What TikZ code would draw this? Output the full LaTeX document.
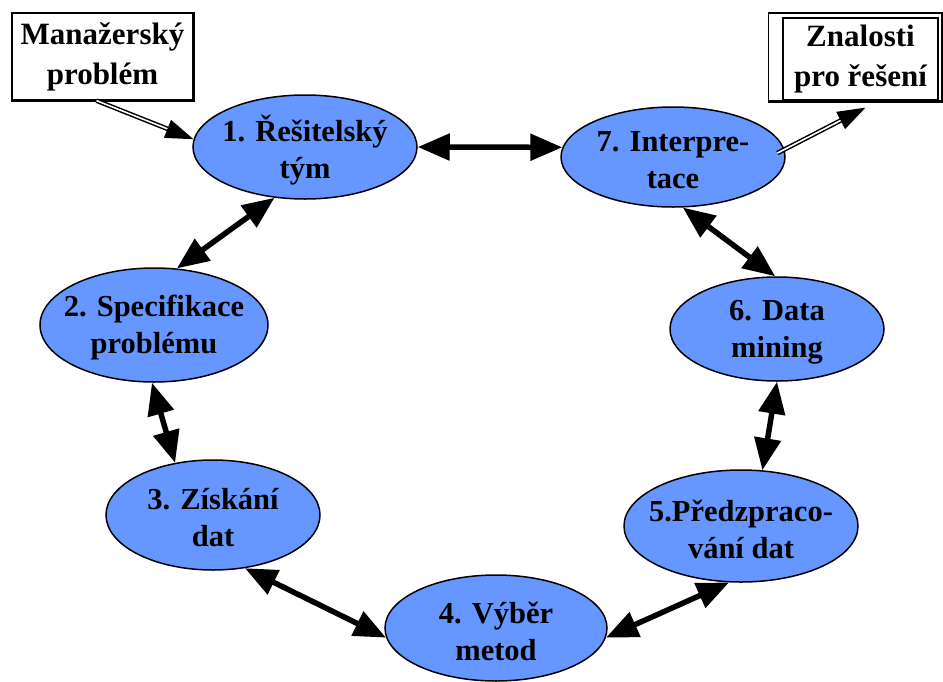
\documentclass[tikz,border=0pt]{standalone}
\usepackage{fontspec}
\setmainfont{Liberation Serif}
\usetikzlibrary{shapes.geometric,arrows.meta}
\definecolor{stageblue}{RGB}{102,150,255}
\tikzset{
  stage/.style={ellipse, draw=black, line width=1.5pt, fill=stageblue,
    inner sep=0pt},
  stagetext/.style={inner sep=0pt, align=center, yshift=-3pt,
    font=\bfseries\fontsize{30.5}{37}\selectfont},
  framed/.style={draw=black, line width=1.3pt, fill=white, inner sep=0pt,
    align=center, font=\bfseries\fontsize{31}{40}\selectfont},
  link/.style={line width=5.5pt,
    {Triangle[length=32pt,width=26pt]}-{Triangle[length=32pt,width=26pt]}},
  feed/.style={double=white, double distance=1.6pt, line width=1.5pt,
    -{Triangle[length=28pt,width=19pt]}},
}
\begin{document}
\begin{tikzpicture}[x=1pt,y=-1pt]
\useasboundingbox[fill=white] (0,0) rectangle (943,681);

% input and output boxes
\node[framed, minimum width=181pt, minimum height=87pt] (mgr) at (102.5,56.5) {Manažerský\\problém};
\draw[line width=3pt] (mgr.north east) -- (mgr.south east) -- (mgr.south west);

\node[framed, minimum width=173pt, minimum height=88pt] (znout) at (855,57) {};
\draw[line width=3pt] (znout.north east) -- (znout.south east) -- (znout.south west);
\node[framed, minimum width=155pt, minimum height=82pt] (zn) at (860.5,59) {Znalosti\\pro řešení};

% stages of the cycle
\node[stage, minimum width=224pt, minimum height=104pt] (e1) at (305,147) {};
\node[stage, minimum width=224pt, minimum height=100pt] (e7) at (673,157) {};
\node[stage, minimum width=228pt, minimum height=114pt] (e2) at (154,325) {};
\node[stage, minimum width=214pt, minimum height=104pt] (e6) at (777,329) {};
\node[stage, minimum width=214pt, minimum height=110pt] (e3) at (213,515) {};
\node[stage, minimum width=234pt, minimum height=112pt] (e5) at (741,526) {};
\node[stage, minimum width=222pt, minimum height=106pt] (e4) at (496,628) {};

\node[stagetext] (t1) at (e1.center) {1. Řešitelský\\tým};
\node[stagetext] (t7) at (e7.center) {7. Interpre-\\tace};
\node[stagetext] (t2) at (e2.center) {2. Specifikace\\problému};
\node[stagetext] (t6) at (e6.center) {6. Data\\mining};
\node[stagetext] (t3) at (e3.center) {3. Získání\\dat};
\node[stagetext] (t5) at (e5.center) {5.Předzpraco-\\vání dat};
\node[stagetext] (t4) at (e4.center) {4. Výběr\\metod};

% two-way links between neighbouring stages
\draw[link] (e1.0) -- (e7.175);
\draw[link] (e1.239) -- (e2.68);
\draw[link] (e2.268) -- (e3.126);
\draw[link] (e3.301) -- (e4.185);
\draw[link] (e4.355) -- (e5.258);
\draw[link] (e5.69) -- (e6.270);
\draw[link] (e7.281) -- (e6.92);

% problem in, knowledge out
\draw[feed] ([xshift=-6pt]mgr.south) -- (e1.176);
\draw[feed] ([xshift=-8pt]e7.2) -- ([xshift=5pt,yshift=-7pt]zn.south);
\end{tikzpicture}
\end{document}
